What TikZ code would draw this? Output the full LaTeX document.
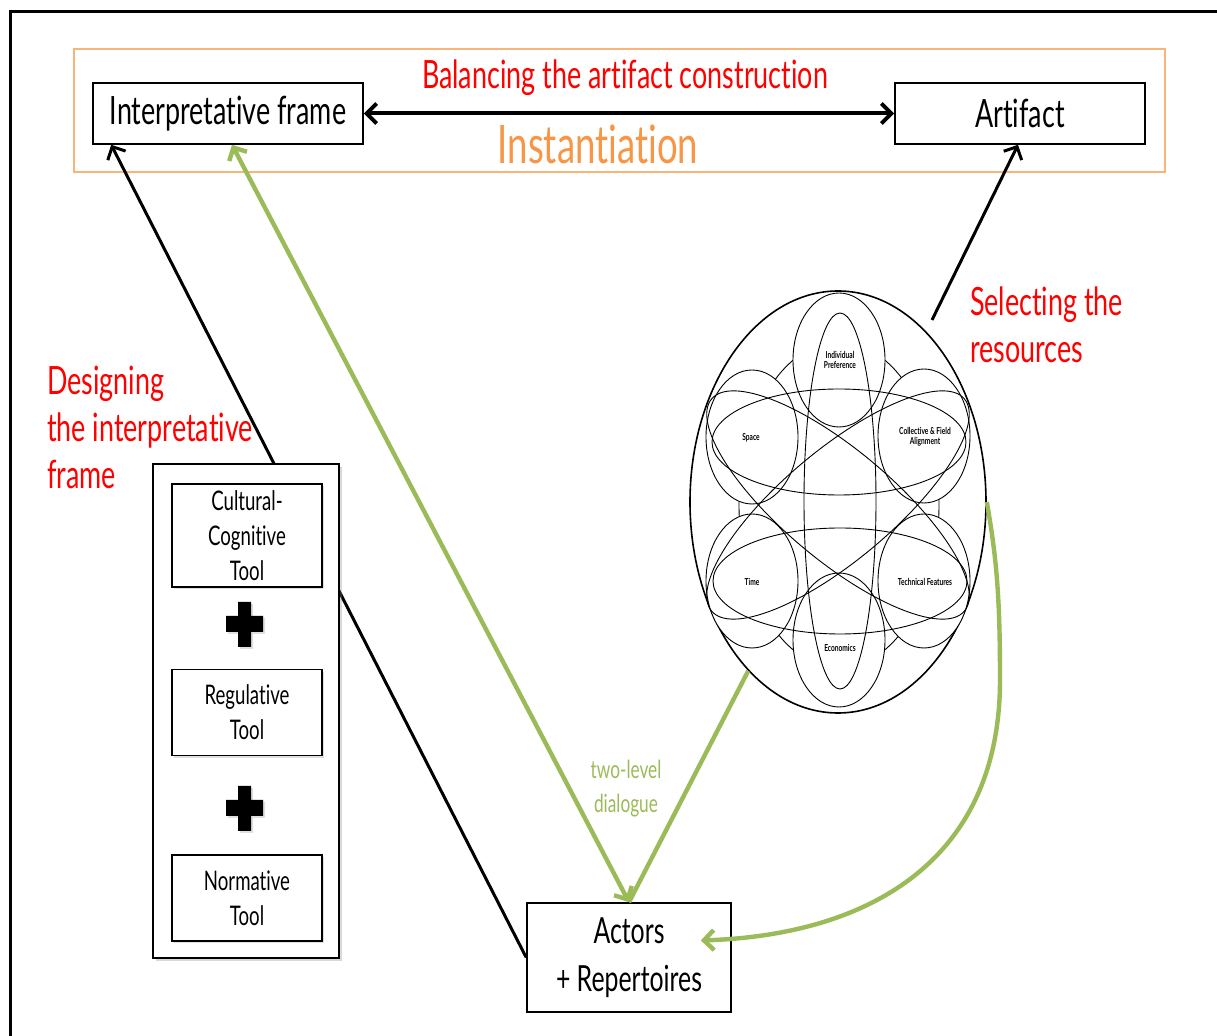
\documentclass[tikz,border=0pt]{standalone}
\usepackage{fontspec}
\setmainfont{Lato}[FakeStretch=0.69, Ligatures=NoCommon]
\usetikzlibrary{positioning,arrows.meta,shapes.geometric,shadows}
\definecolor{lgreen}{HTML}{9BBB59}
\definecolor{linst}{HTML}{F79646}
\definecolor{lframe}{HTML}{F9B47A}
\tikzset{
  box/.style={draw, line width=0.8pt, fill=white, align=center, inner sep=2pt},
  tool/.style={box, minimum width=75pt, font=\fontsize{13.5}{17.5}\selectfont, drop shadow={opacity=0.25,shadow xshift=1pt,shadow yshift=-1pt}},
  redlbl/.style={text=red, align=left, font=\fontsize{19.5}{23.5}\selectfont},
  glink/.style={draw=lgreen, line width=2.2pt},
  venn/.style={line width=0.45pt},
  vlbl/.style={font=\fontsize{4.8}{5.2}\selectfont\bfseries, align=center, inner sep=0pt},
  barb/.tip={Straight Barb[length=5pt,width=10pt]}
}
\begin{document}
\begin{tikzpicture}[x=0.5pt,y=0.5pt]
\useasboundingbox (0,0) rectangle (1217,-1036);
\draw[line width=1.5pt] (10,-1036) -- (10,-12) -- (1217,-12);
\node[draw=lframe, line width=1pt, minimum width=545.5pt, minimum height=61.5pt] (inst) at (619.5,-110.5) {};
\node[box, minimum width=135pt, minimum height=30.5pt, font=\fontsize{19.5}{23}\selectfont] (interp) at (228,-113.5) {Interpretative frame};
\node[box, minimum width=125pt, minimum height=30.5pt, font=\fontsize{19.5}{23}\selectfont] (artifact) at (1020,-113.5) {Artifact};
\node[text=red, font=\fontsize{19.5}{23}\selectfont] (balance) at (625,-78) {Balancing the artifact construction};
\node[text=linst, font=\fontsize{26.5}{30}\selectfont] (instlbl) at (598,-144) {Instantiation};
\node[box, minimum width=102pt, minimum height=54.5pt, font=\fontsize{18}{24}\selectfont] (actors) at (629,-957.5) {Actors\\+ Repertoires};
\draw[line width=2pt, barb-barb] (interp.east) -- (artifact.west);
\draw[line width=1.5pt, -barb] (actors.west) -- ([xshift=9.5pt]interp.south west);
\node[box, minimum width=93pt, minimum height=247pt, drop shadow={opacity=0.3,shadow xshift=1.5pt,shadow yshift=-1.5pt}] (tools) at (246,-711) {};
\node[tool, minimum height=51.5pt] (cult) at (247,-535.5) {Cultural-\\Cognitive\\Tool};
\node[tool, minimum height=43pt, below=40.5pt of cult] (reg) {Regulative\\Tool};
\node[tool, minimum height=43pt, below=49pt of reg] (norm) {Normative\\Tool};
\foreach \py in {624,808}{
  \fill[drop shadow={opacity=0.25,shadow xshift=1pt,shadow yshift=-1pt}] (238,{22-\py}) -- (251,{22-\py}) -- (251,{8-\py}) -- (263,{8-\py}) -- (263,{-8-\py}) -- (251,{-8-\py}) -- (251,{-23-\py}) -- (238,{-23-\py}) -- (238,{-8-\py}) -- (226,{-8-\py}) -- (226,{8-\py}) -- (238,{8-\py}) -- cycle;
}
\node[draw, ellipse, line width=0.8pt, minimum width=148pt, minimum height=211pt] (res) at (838,-502) {};
\begin{scope}[venn]
  \draw (839,-505) ellipse [x radius=100, y radius=163];
  \foreach \cx/\cy in {839/360, 752/437, 924/436, 752/581, 924/581, 839/640}
    \draw[fill=white] (\cx,-\cy) ellipse [x radius=46, y radius=67];
  \draw (839,-442) ellipse [x radius=127, y radius=53];
  \draw (840,-581) ellipse [x radius=127, y radius=53];
  \draw (840,-501) ellipse [x radius=36, y radius=188];
  \draw[rotate around={-40:(838,-505)}] (838,-505) ellipse [x radius=165, y radius=55];
  \draw[rotate around={40:(838,-505)}] (838,-505) ellipse [x radius=165, y radius=55];
\end{scope}
\node[vlbl] (indiv) at (840,-360) {Individual\\Preference};
\node[vlbl] (space) at (751,-438) {Space};
\node[vlbl] (collect) at (925,-437) {Collective \& Field\\Alignment};
\node[vlbl] (time) at (752,-582) {Time};
\node[vlbl] (techn) at (925,-582) {Technical Features};
\node[vlbl] (econ) at (840,-648) {Economics};
\draw[glink, barb-barb] (actors.north) -- ([xshift=2pt]interp.south);
\draw[glink] (res.242) -- (actors.north);
\draw[glink, -barb] (res.east) .. controls (997,-560) and (1000,-600) .. (1000,-680) .. controls (1000,-860) and (870,-935) .. ([xshift=-15.5pt,yshift=8.5pt]actors.east);
\coordinate (selfoot) at (932,-320);
\draw[line width=1.5pt, -barb] (selfoot) -- ([xshift=-1pt]artifact.south);
\node[redlbl, anchor=west] (design) at (40,-427) {Designing\\the interpretative\\frame};
\node[redlbl, anchor=west] (select) at (963,-325) {Selecting the\\resources};
\node[text=lgreen, font=\fontsize{12.5}{17}\selectfont, align=center] (dialog) at (626,-789) {two-level\\dialogue};
\end{tikzpicture}
\end{document}
